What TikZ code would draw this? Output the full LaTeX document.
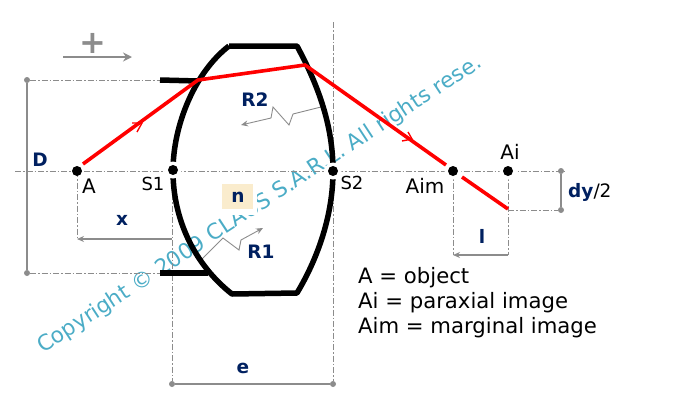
\documentclass[tikz,border=0pt]{standalone}
\usepackage{fontspec}
\setmainfont{DejaVu Sans}
\usetikzlibrary{arrows.meta}
\definecolor{navy}{RGB}{0,32,96}
\definecolor{dimgray}{RGB}{140,140,140}
\definecolor{markblue}{RGB}{75,172,198}
\definecolor{cream}{RGB}{250,236,205}
\tikzset{
	pt/.style={circle,fill=black,inner sep=0pt,minimum size=10pt},
	halo/.style={circle,fill=white,inner sep=0pt,minimum size=17pt},
	enddot/.style={circle,fill=dimgray,inner sep=0pt,minimum size=6pt},
	lab/.style={inner sep=0pt,font=\fontsize{20}{20}\selectfont},
	slab/.style={inner sep=0pt,font=\fontsize{18}{18}\selectfont},
	dimlab/.style={inner sep=0pt,text=navy,font=\fontsize{18.5}{18.5}\selectfont\bfseries},
	axisline/.style={dimgray,line width=1pt,dash pattern=on 6pt off 2pt on 1.5pt off 2pt},
	dimline/.style={dimgray,line width=1.3pt},
	dimarrow/.style={dimline,-{Stealth[length=7pt,width=6pt]}},
	lensline/.style={black,line width=5.5pt},
	ray/.style={red,line width=3.6pt}
}
\begin{document}
\begin{tikzpicture}[x=1pt,y=-1pt]
	\useasboundingbox (0,0) rectangle (674,402);
	% watermark
	\node[rotate=33.2,inner sep=0pt,anchor=base west,text=markblue,font=\fontsize{21.6}{22}\selectfont] (mark) at (43,354) {Copyright © 2009 CLAUS S.A.R.L. All rights rese.};
	\fill[white] (222,184) rectangle (257,215);
	\fill[cream] (222,184) rectangle (253,209);
	% free ends
	\coordinate (axisL) at (15,171);
	\coordinate (axisR) at (565,171);
	\coordinate (s2top) at (333,22);
	\coordinate (ltop) at (160,80);
	\coordinate (lbot) at (160,273);
	\coordinate (xL) at (77,239);
	\coordinate (xR) at (172,239);
	\coordinate (lL) at (453,255);
	\coordinate (lR) at (508,255);
	\coordinate (dyP) at (508,210);
	\coordinate (topL) at (229,46);
	\coordinate (topR) at (297,46);
	\coordinate (botL) at (232,294);
	\coordinate (botR) at (297,293);
	\coordinate (hit1) at (198,80);
	\coordinate (hit2) at (305,65);
	\coordinate (hit3) at (508,209);
	\coordinate (stubT) at (160,80);
	\coordinate (stubB) at (160,273);
	\coordinate (stubTe) at (198,81);
	\coordinate (stubBe) at (208,273);
	\coordinate (plusL) at (63,57);
	\coordinate (plusR) at (132,57);
	% end dots
	\node[enddot] (dTop) at (27,80) {};
	\node[enddot] (dBot) at (27,273) {};
	\node[enddot] (eL) at (172,384) {};
	\node[enddot] (eR) at (333,384) {};
	\node[enddot] (dyT) at (561,171) {};
	\node[enddot] (dyB) at (561,210) {};
	% construction lines
	\draw[axisline] (axisL) -- (axisR);
	\draw[axisline] (dTop) -- (ltop);
	\draw[axisline] (dBot) -- (lbot);
	\draw[axisline] (77,171) -- (xL);
	\draw[axisline] (172,171) -- (eL);
	\draw[axisline] (s2top) -- (eR);
	\draw[axisline] (453,171) -- (lL);
	\draw[axisline] (508,171) -- (lR);
	\draw[axisline] (dyP) -- (dyB);
	% dimensions
	\draw[dimline] (dTop) -- (dBot);
	\draw[dimline] (eL) -- (eR);
	\draw[dimline,line width=1.8pt] (dyT) -- (dyB);
	\draw[dimarrow] (xR) -- (xL);
	\draw[dimarrow] (lR) -- (lL);
	\draw[dimline,line width=2.4pt,-{Stealth[length=9pt,width=9pt]}] (plusL) -- (plusR);
	\draw[dimarrow,line width=0.9pt] (321,107) -- (293,114) -- (289,125) -- (273,107) -- (271,118) -- (241,125);
	\draw[dimarrow,line width=0.9pt] (202,259) -- (223,238) -- (239,250) -- (241,240) -- (263,228);
	% lens
	\draw[lensline,line join=round] (topL) -- (topR) .. controls (318,85) and (333,125) .. (333,171) .. controls (333,215) and (318,258) .. (botR) -- (botL) .. controls (195,265) and (173,220) .. (173,171) .. controls (173,125) and (195,72) .. (topL);
	\draw[lensline] (stubT) -- (stubTe);
	\draw[lensline] (stubB) -- (stubBe);
	% rays
	\draw[ray] (83,164) -- (hit1) -- (hit2) -- (446,165);
	\draw[ray] (462,177) -- (hit3);
	\draw[red,line width=1.4pt] (132,123) -- (142,123) -- (137,132);
	\draw[red,line width=1.4pt] (408,132) -- (412,139) -- (402,141);
	% points
	\node[halo] at (173,170) {};
	\node[halo] at (333,171) {};
	\node[halo] at (453,171) {};
	\node[halo] at (508,171) {};
	\node[pt] (A) at (77,171) {};
	\node[pt] (S1) at (173,170) {};
	\node[pt] (S2) at (333,171) {};
	\node[pt] (Aim) at (453,171) {};
	\node[pt] (Ai) at (508,171) {};
	% labels
	\node[lab] (labA) at (89,186) {A};
	\node[slab] (labS1) at (153,184) {S1};
	\node[slab] (labS2) at (352,183) {S2};
	\node[lab] (labAim) at (425,186) {Aim};
	\node[lab] (labAi) at (510,152) {Ai};
	\node[dimlab] (labD) at (40,160) {D};
	\node[dimlab] (labx) at (122,220) {x};
	\node[dimlab] (labR2) at (255,100) {R2};
	\node[dimlab] (labR1) at (261,252) {R1};
	\node[dimlab] (labn) at (238,197) {n};
	\node[dimlab] (labe) at (243,368) {e};
	\node[dimlab] (labl) at (482,236) {l};
	\node[dimlab,anchor=west] (labdy) at (568,192) {dy\textmd{\textcolor{black}{/2}}};
	\node[text=dimgray,inner sep=0pt,font=\fontsize{32}{32}\selectfont\bfseries] (plus) at (93,43) {+};
	\node[anchor=base west,inner sep=0pt,align=left,font=\fontsize{21.2}{25}\selectfont] (legend) at (358,333) {A = object\\Ai = paraxial image\\Aim = marginal image};
\end{tikzpicture}
\end{document}
